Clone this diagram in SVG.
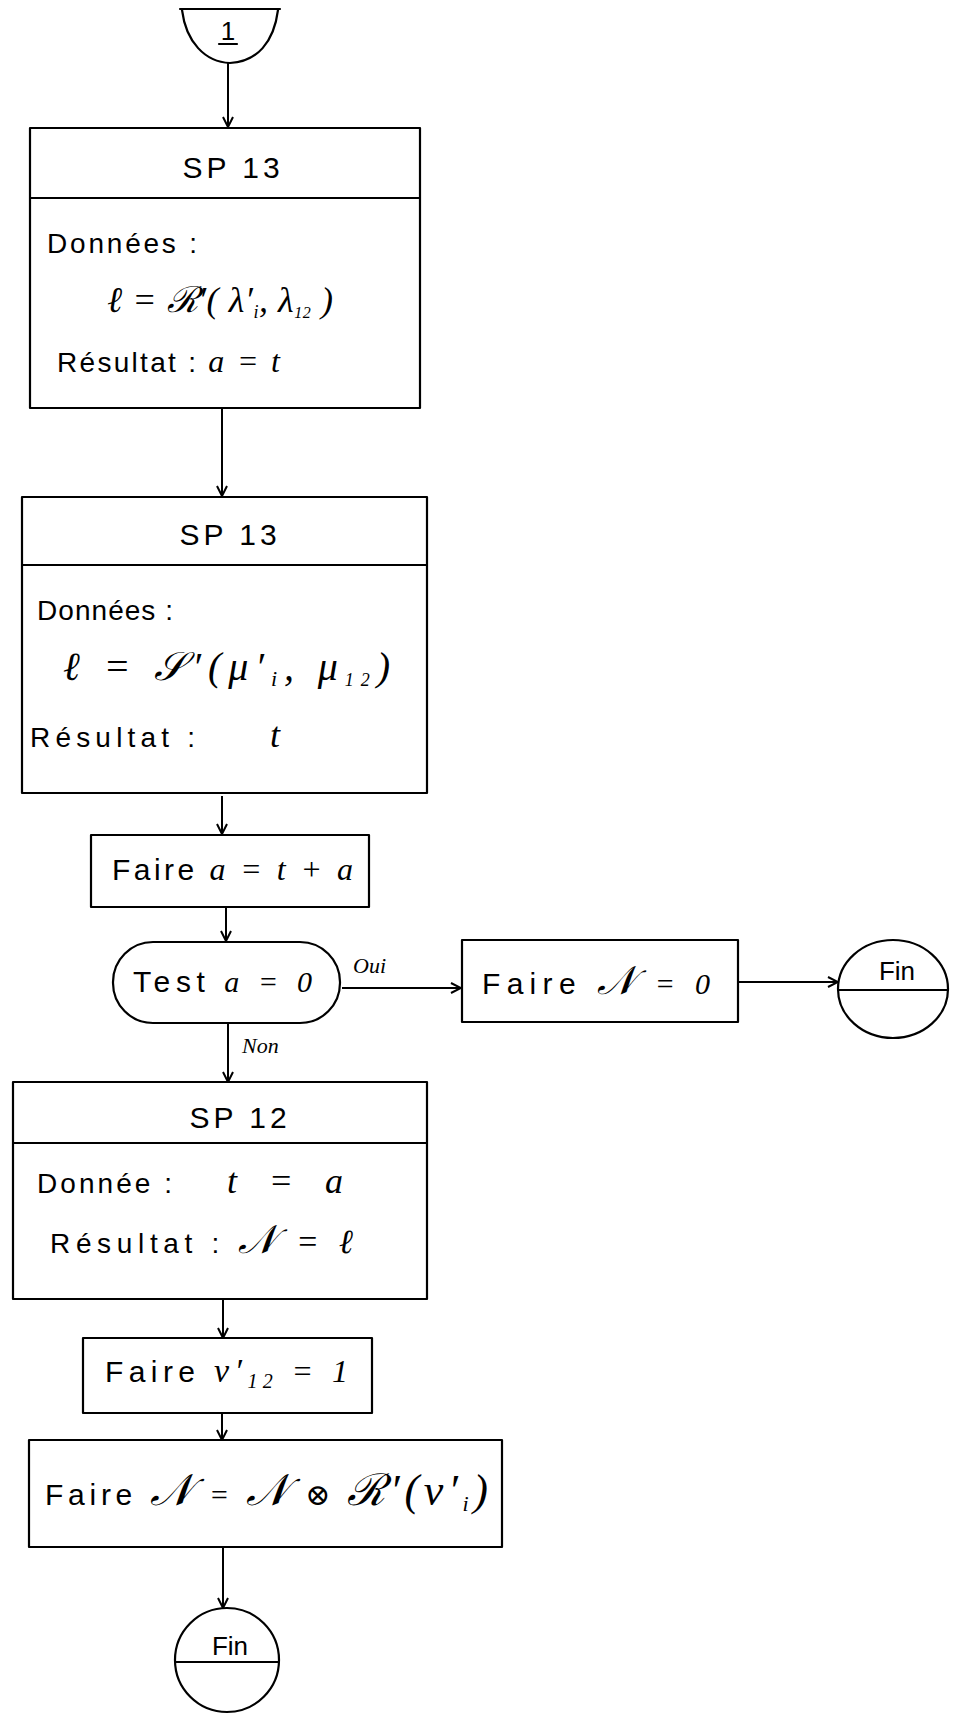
<svg xmlns="http://www.w3.org/2000/svg" width="953" height="1715" viewBox="0 0 953 1715">
<defs>
<style>
.s{fill:none;stroke:#000;stroke-width:2.2;stroke-linecap:round;stroke-linejoin:round}
.t{font-family:"Liberation Sans","DejaVu Sans",sans-serif;fill:#000}
.m{font-family:"Liberation Serif","DejaVu Serif",serif;font-style:italic;fill:#000}
.h{font-size:30px;text-anchor:middle;letter-spacing:4px}
.b{font-size:28px}
.f{font-size:30px}
.l{font-size:22px;font-style:italic}
.c{stroke:#000;stroke-width:2;fill:none}
</style>
<marker id="ah" viewBox="0 0 12 12" refX="11" refY="6" markerWidth="12" markerHeight="12" markerUnits="userSpaceOnUse" orient="auto">
<path d="M1,1 L11,6 L1,11" fill="none" stroke="#000" stroke-width="2"/>
</marker>
</defs>
<rect width="953" height="1715" fill="#fff"/>

<g id="connectors">
<line class="c" x1="228" y1="63" x2="228" y2="127" marker-end="url(#ah)"/>
<line class="c" x1="222" y1="408" x2="222" y2="496" marker-end="url(#ah)"/>
<line class="c" x1="222" y1="796" x2="222" y2="834" marker-end="url(#ah)"/>
<line class="c" x1="226" y1="907" x2="226" y2="941" marker-end="url(#ah)"/>
<line class="c" x1="342" y1="988" x2="461" y2="988" marker-end="url(#ah)"/>
<line class="c" x1="738" y1="982" x2="838" y2="982" marker-end="url(#ah)"/>
<line class="c" x1="228" y1="1023" x2="228" y2="1082" marker-end="url(#ah)"/>
<line class="c" x1="223" y1="1300" x2="223" y2="1338" marker-end="url(#ah)"/>
<line class="c" x1="222" y1="1413" x2="222" y2="1440" marker-end="url(#ah)"/>
<line class="c" x1="223" y1="1547" x2="223" y2="1608" marker-end="url(#ah)"/>
<text class="m l" x="353" y="973">Oui</text>
<text class="m l" x="242" y="1053">Non</text>
</g>

<g id="start">
<line class="s" x1="180" y1="9" x2="280" y2="9"/>
<path class="s" d="M182,10 C186,42 205,62 230,63 C257,62 274,42 278,10"/>
<text class="t" x="228" y="40" font-size="26" text-anchor="middle">1</text>
<line class="s" x1="219" y1="44" x2="237" y2="44" stroke-width="1.6"/>
</g>

<g id="sp13a">
<rect class="s" x="30" y="128" width="390" height="280"/>
<line class="s" x1="30" y1="198" x2="420" y2="198"/>
<text class="t h" x="233" y="178">SP 13</text>
<text class="t b" x="47" y="253" textLength="150" lengthAdjust="spacing">Données :</text>
<text class="m" x="107" y="312" font-size="36" textLength="226" lengthAdjust="spacing">ℓ = ℛ′( λ′<tspan font-size="18" dy="6">i</tspan><tspan dy="-6">, λ</tspan><tspan font-size="16" dy="6">12</tspan><tspan dy="-6"> )</tspan></text>
<text class="t b" x="57" y="372" textLength="223" lengthAdjust="spacing">Résultat : <tspan class="m" font-size="32">a = t</tspan></text>
</g>

<g id="sp13b">
<rect class="s" x="22" y="497" width="405" height="296"/>
<line class="s" x1="22" y1="565" x2="427" y2="565"/>
<text class="t h" x="230" y="545">SP 13</text>
<text class="t b" x="37" y="620" textLength="136" lengthAdjust="spacing">Données :</text>
<text class="m" x="63" y="680" font-size="40" textLength="327" lengthAdjust="spacing">ℓ  =  𝒮′(μ′<tspan font-size="22" dy="6">i</tspan><tspan dy="-6">, μ</tspan><tspan font-size="18" dy="6">12</tspan><tspan dy="-6">)</tspan></text>
<text class="t b" x="30" y="747" textLength="165" lengthAdjust="spacing">Résultat :</text>
<text class="m" x="270" y="747" font-size="36">t</text>
</g>

<g id="faire-a">
<rect class="s" x="91" y="835" width="278" height="72"/>
<text class="t f" x="112" y="880" textLength="241" lengthAdjust="spacing">Faire  <tspan class="m" font-size="32">a = t + a</tspan></text>
</g>

<g id="test">
<rect class="s" x="113" y="942" width="227" height="81" rx="40" ry="40"/>
<text class="t f" x="133" y="992" font-size="32" textLength="179" lengthAdjust="spacing">Test  <tspan class="m">a = 0</tspan></text>
</g>

<g id="faire-n0">
<rect class="s" x="462" y="940" width="276" height="82"/>
<text class="t f" x="482" y="994" textLength="228" lengthAdjust="spacing">Faire  <tspan class="m" font-size="40">𝒩</tspan><tspan class="m"> = 0</tspan></text>
</g>

<g id="fin1">
<ellipse class="s" cx="893" cy="989" rx="55" ry="49"/>
<line class="s" x1="838" y1="990" x2="948" y2="990"/>
<text class="t" x="897" y="980" font-size="26" text-anchor="middle">Fin</text>
</g>

<g id="sp12">
<rect class="s" x="13" y="1082" width="414" height="217"/>
<line class="s" x1="13" y1="1143" x2="427" y2="1143"/>
<text class="t h" x="240" y="1128">SP 12</text>
<text class="t b" x="37" y="1193" textLength="135" lengthAdjust="spacing">Donnée :</text>
<text class="m" x="227" y="1193" font-size="36" textLength="116" lengthAdjust="spacing">t = a</text>
<text class="t b" x="50" y="1253" textLength="303" lengthAdjust="spacing">Résultat : <tspan class="m" font-size="40">𝒩</tspan><tspan class="m" font-size="34"> = ℓ</tspan></text>
</g>

<g id="faire-nu">
<rect class="s" x="83" y="1338" width="289" height="75"/>
<text class="t f" x="105" y="1382" textLength="243" lengthAdjust="spacing">Faire   <tspan class="m" font-size="34">ν′</tspan><tspan class="m" font-size="20" dy="6">12</tspan><tspan class="m" font-size="32" dy="-6">  =  1</tspan></text>
</g>

<g id="faire-nn">
<rect class="s" x="29" y="1440" width="473" height="107"/>
<text class="t f" x="45" y="1505" textLength="443" lengthAdjust="spacing">Faire  <tspan class="m" font-size="44">𝒩</tspan><tspan class="m" font-size="30"> = </tspan><tspan class="m" font-size="44">𝒩</tspan><tspan class="m" font-size="30"> ⊗ </tspan><tspan class="m" font-size="44">ℛ′(ν′</tspan><tspan class="m" font-size="22" dy="6">i</tspan><tspan class="m" font-size="44" dy="-6">)</tspan></text>
</g>

<g id="fin2">
<ellipse class="s" cx="227" cy="1660" rx="52" ry="52"/>
<line class="s" x1="176" y1="1662" x2="278" y2="1662"/>
<text class="t" x="230" y="1655" font-size="26" text-anchor="middle">Fin</text>
</g>
</svg>
